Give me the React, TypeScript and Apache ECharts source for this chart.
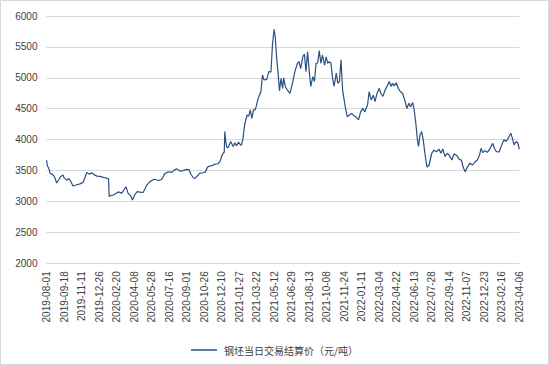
import React, { useEffect, useRef } from "react";
import * as echarts from "echarts";

// x-axis tick labels (every 33 trading days)
const tickLabels = [
  "2019-08-01", "2019-09-18", "2019-11-11", "2019-12-26", "2020-02-20", "2020-04-08",
  "2020-05-28", "2020-07-16", "2020-09-01", "2020-10-26", "2020-12-10", "2021-01-27",
  "2021-03-22", "2021-05-12", "2021-06-29", "2021-08-13", "2021-10-08", "2021-11-24",
  "2022-01-11", "2022-03-04", "2022-04-22", "2022-06-13", "2022-07-28", "2022-09-14",
  "2022-11-07", "2022-12-23", "2023-02-16", "2023-04-06",
];
const labelStep = 33;

// trading-day index since 2019-08-01
const dayIndex = [
  0, 2, 4, 7, 10, 13, 16, 19, 22, 26,
  31, 33, 38, 42, 46, 50, 57, 63, 69, 73,
  76, 81, 85, 90, 95, 101, 107, 112, 117, 118,
  123, 126, 130, 135, 142, 146, 150, 152, 154, 159,
  162, 167, 171, 176, 182, 186, 189, 195, 199, 204,
  211, 217, 223, 230, 236, 240, 245, 252, 257, 264,
  269, 272, 277, 280, 284, 289, 295, 299, 304, 308,
  312, 318, 323, 327, 330, 333, 335, 336, 338, 340,
  343, 347, 350, 352, 355, 358, 362, 365, 367, 370,
  372, 374, 378, 381, 384, 387, 390, 393, 395, 399,
  404, 407, 410, 415, 419, 423, 426, 429, 431, 434,
  437, 439, 442, 445, 447, 450, 454, 459, 464, 468,
  473, 476, 479, 483, 486, 489, 492, 495, 498, 502,
  505, 508, 511, 514, 517, 520, 524, 527, 530, 533,
  536, 539, 542, 546, 549, 552, 555, 558, 561, 564,
  567, 571, 575, 580, 583, 588, 592, 596, 600, 605,
  608, 612, 616, 619, 623, 627, 630, 634, 638, 642,
  646, 649, 652, 655, 659, 663, 667, 671, 676, 679,
  683, 686, 690, 693, 696, 699, 701, 704, 707, 710,
  713, 717, 721, 726, 730, 735, 740, 743, 747, 751,
  755, 759, 764, 768, 773, 778, 782, 785, 789, 793,
  798, 803, 808, 812, 816, 819, 822, 826, 831, 836,
  841, 844, 848, 853, 858, 862, 866, 870, 875, 878,
  881, 885, 888, 891,
];

// 钢坯当日交易结算价（元/吨）
const settlePrice = [
  3670, 3570, 3545, 3455, 3445, 3425, 3380, 3300, 3335, 3395,
  3430, 3385, 3345, 3370, 3320, 3250, 3270, 3285, 3310, 3400,
  3470, 3440, 3465, 3430, 3410, 3405, 3390, 3380, 3365, 3080,
  3100, 3105, 3125, 3155, 3135, 3190, 3235, 3180, 3130, 3090,
  3025, 3120, 3160, 3150, 3145, 3210, 3265, 3320, 3345, 3360,
  3340, 3355, 3450, 3480, 3470, 3500, 3530, 3490, 3500, 3520,
  3510, 3440, 3380, 3375, 3410, 3460, 3465, 3475, 3560, 3575,
  3580, 3605, 3610, 3645, 3730, 3780, 3800, 4130, 3950, 3870,
  3880, 3970, 3920, 3890, 3950, 3900, 3960, 3920, 3910, 4000,
  4150, 4265, 4400, 4380, 4480, 4345, 4480, 4480, 4530, 4670,
  4775, 5045, 4965, 4975, 5100, 5095, 5560, 5785, 5665, 5290,
  5020, 4790, 4990, 4830, 5000, 4860, 4800, 4750, 4930, 5100,
  5235, 5260, 5150, 5340, 5385, 5100, 5420, 5125, 4860, 5020,
  4940, 5235, 5240, 5440, 5235, 5370, 5205, 5340, 5235, 5260,
  5240, 5000, 4860, 5075, 4910, 4940, 5290, 4800, 4640, 4480,
  4370, 4400, 4425, 4380, 4370, 4320, 4450, 4505, 4450, 4560,
  4775, 4640, 4720, 4615, 4750, 4830, 4750, 4700, 4800, 4870,
  4940, 4860, 4910, 4870, 4920, 4830, 4775, 4750, 4615, 4505,
  4590, 4530, 4600, 4480, 4265, 4000, 3890, 4075, 4130, 4000,
  3780, 3555, 3590, 3780, 3830, 3805, 3845, 3780, 3850, 3725,
  3780, 3750, 3670, 3770, 3745, 3680, 3670, 3560, 3480, 3555,
  3620, 3590, 3645, 3670, 3750, 3860, 3790, 3820, 3795, 3860,
  3940, 3860, 3805, 3800, 3915, 4000, 3970, 4020, 4105, 4020,
  3915, 3970, 3950, 3845,
];

const seriesName = "钢坯当日交易结算价（元/吨）";

export default function App() {
  const ref = useRef<HTMLDivElement>(null);

  useEffect(() => {
    if (!ref.current) return;
    const chart = echarts.init(ref.current, undefined, { renderer: "svg" });
    const data = dayIndex.map((d, i) => [d, settlePrice[i]]);
    const numFont = "'Liberation Sans', Arial, sans-serif";
    chart.setOption({
      animation: false,
      backgroundColor: "#ffffff",
      graphic: [
        {
          type: "rect",
          shape: { x: 0.5, y: 0.5, width: 548, height: 364 },
          style: { fill: "none", stroke: "#D9D9D9", lineWidth: 1 },
          silent: true,
        },
      ],
      grid: { left: 46.5, right: 29.7, top: 16, bottom: 101.7, containLabel: false },
      xAxis: {
        type: "value",
        min: 0,
        max: (tickLabels.length - 1) * labelStep,
        interval: labelStep,
        axisLine: { show: false },
        axisTick: { show: false },
        splitLine: { show: false },
        axisLabel: {
          rotate: 90,
          margin: 8,
          fontSize: 10,
          color: "#404040",
          fontFamily: numFont,
          showMinLabel: true,
          showMaxLabel: true,
          formatter: (v: number) => {
            const k = Math.round(v / labelStep);
            return Math.abs(v - k * labelStep) < 1e-6 && tickLabels[k] ? tickLabels[k] : "";
          },
        },
      },
      yAxis: {
        type: "value",
        min: 2000,
        max: 6000,
        interval: 500,
        axisLine: { show: false },
        axisTick: { show: false },
        axisLabel: {
          fontSize: 10,
          color: "#404040",
          fontFamily: numFont,
          margin: 9,
          formatter: (v: number) => String(v),
        },
        splitLine: { lineStyle: { color: "#D9D9D9", width: 1 } },
      },
      legend: {
        data: [{ name: seriesName, icon: "rect" }],
        left: "center",
        top: 340,
        itemWidth: 26,
        itemHeight: 1.5,
        itemGap: 4,
        itemStyle: { color: "#2A5082" },
        textStyle: {
          fontSize: 10,
          color: "#404040",
          fontFamily: "'Noto Sans CJK SC', sans-serif",
          padding: [0, 0, 0, 2],
        },
      },
      series: [
        {
          name: seriesName,
          type: "line",
          data,
          symbol: "none",
          showSymbol: false,
          lineStyle: { color: "#2A5082", width: 1.2 },
          itemStyle: { color: "#2A5082" },
        },
      ],
    });
    return () => chart.dispose();
  }, []);

  return (
    <div
      ref={ref}
      style={{ position: "fixed", left: 0, top: 0, width: 549, height: 365 }}
    />
  );
}
